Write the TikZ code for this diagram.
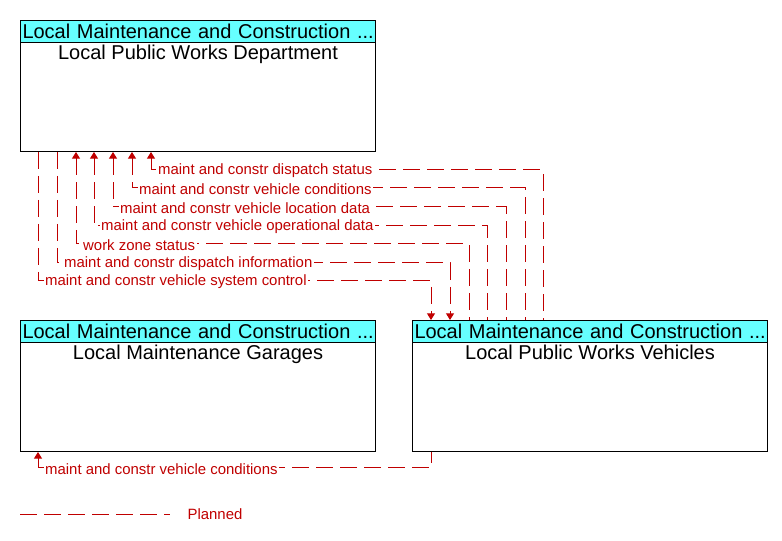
\documentclass[tikz,border=0pt]{standalone}
\usepackage{fontspec}
\setmainfont{Liberation Sans}
\usetikzlibrary{positioning}
\usetikzlibrary{calc}
\usetikzlibrary{arrows.meta}
\definecolor{flowred}{RGB}{192,0,0}
\definecolor{headcyan}{RGB}{102,255,255}
\newcommand{\headfont}{\fontsize{15}{17}\selectfont}
\newcommand{\lblfont}{\fontsize{11.2}{13}\selectfont}
\tikzset{>={Triangle[length=5pt,width=6pt]}}
\tikzset{
	% element boxes
	box/.style={draw=black,line width=0.75pt,anchor=north west,inner sep=0pt,
		minimum width=266.25pt,minimum height=98.25pt},
	head/.style={draw=black,line width=0.75pt,fill=headcyan,anchor=north west,
		text width=263.25pt,align=left,inner xsep=1.5pt,inner ysep=0pt,
		minimum height=16.5pt,font=\headfont},
	boxtitle/.style={inner sep=1pt,font=\headfont},
	% flows
	flow/.style={draw=flowred,line width=0.75pt,dash pattern=on 12.75pt off 5.25pt},
	flowlbl/.style={anchor=west,xshift=4pt,yshift=-0.75pt,fill=white,inner sep=1pt,
		text=flowred,font=\lblfont},
}

\begin{document}
\begin{tikzpicture}[x=0.75pt,y=-0.75pt]
\useasboundingbox (0,0) rectangle (782,541);
% the three elements
\node[box] (lpwd) at (20,20) {};
\node[head] (lpwdh) at (20,20) {\mbox{Local Maintenance and Construction ...}};
\node[boxtitle,below=0pt of lpwdh] (lpwdt) {Local Public Works Department};
\node[box] (lmg) at (20,320) {};
\node[head] (lmgh) at (20,320) {\mbox{Local Maintenance and Construction ...}};
\node[boxtitle,below=0pt of lmgh] (lmgt) {Local Maintenance Garages};
\node[box] (lpwv) at (412,320) {};
\node[head] (lpwvh) at (412,320) {\mbox{Local Maintenance and Construction ...}};
\node[boxtitle,below=0pt of lpwvh] (lpwvt) {Local Public Works Vehicles};
% department <-> vehicles
\foreach \n/\d/\v/\y/\tip/\txt in {
	1/18/19/281/->/maint and constr vehicle system control,
	2/37/38/263/->/maint and constr dispatch information,
	3/56/57/244/<-/work zone status,
	4/74/75/226/<-/maint and constr vehicle operational data,
	5/93/94/207/<-/maint and constr vehicle location data,
	6/112/113/188/<-/maint and constr vehicle conditions,
	7/131/131/170/<-/maint and constr dispatch status}
{
	\coordinate (d\n) at ($(lpwd.south west)+(\d,0)$);
	\coordinate (v\n) at ($(lpwv.north west)+(\v,0)$);
	\draw[flow,\tip] (d\n) -- (d\n |- 0,\y) node[flowlbl] (l\n) {\txt} -| (v\n);
}
% vehicles -> garages
\coordinate (g8) at ($(lmg.south west)+(18,0)$);
\coordinate (v8) at ($(lpwv.south west)+(19,0)$);
\draw[flow,<-] (g8) -- (g8 |- 0,468) node[flowlbl] (l8) {maint and constr vehicle conditions} -| (v8);
% legend
\coordinate (k1) at (20,514);
\coordinate (k2) at (170,514);
\draw[flow] (k1) -- (k2);
\node[right=13pt of k2,inner sep=0pt,text=flowred,font=\lblfont] (planned) {Planned};
\end{tikzpicture}
\end{document}
